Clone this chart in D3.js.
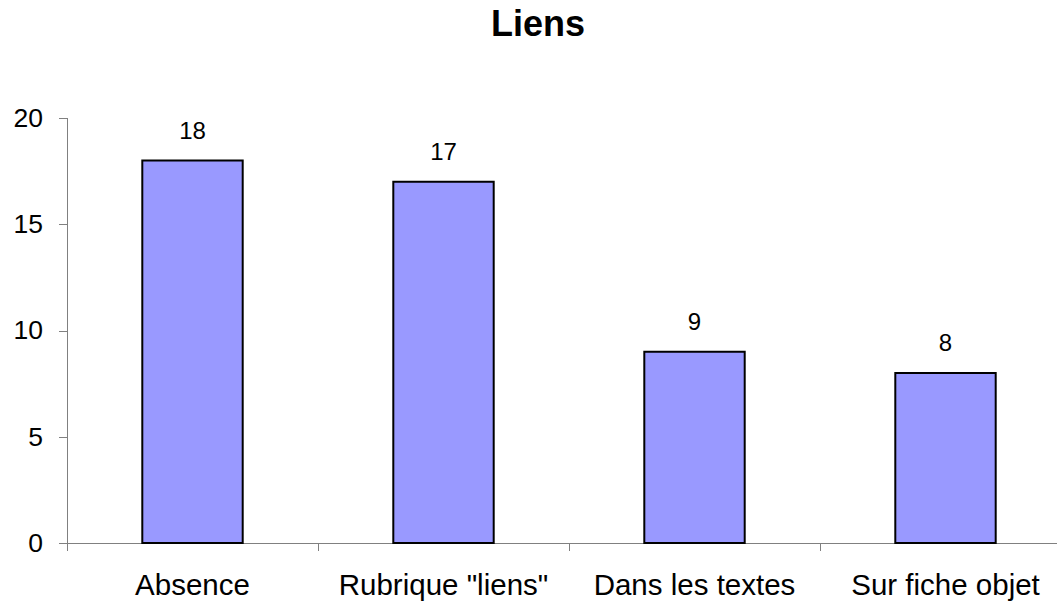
<!DOCTYPE html>
<meta charset='utf-8'>
<style>
body {
    margin: 0;
    background: #fff;
    font-family: 'Liberation Sans', Arial, sans-serif;
}
.axis path, .axis line {
    stroke: #808080;
    stroke-width: 1px;
    shape-rendering: crispEdges;
}
.axis text {
    font-family: 'Liberation Sans', Arial, sans-serif;
    fill: #000;
}
.bar {
    fill: #9999ff;
    stroke: #000;
    stroke-width: 2px;
}
</style>
<body>
<div class='chart'></div>
<script src='https://d3js.org/d3.v7.min.js'></script>
<script>
var categories = ['Absence', 'Rubrique "liens"', 'Dans les textes', 'Sur fiche objet'];
var values = [18, 17, 9, 8];
var yTicks = [0, 5, 10, 15, 20];

var width = 1057, height = 602;
var x0 = 67, x1 = 1071, yTop = 118, yBottom = 543;

var svg = d3.select('.chart').append('svg')
    .attr('width', width)
    .attr('height', height);

var x = d3.scaleBand()
    .domain(categories)
    .range([x0, x1])
    .paddingInner(0.6)
    .paddingOuter(0.3);

var xTicks = d3.scaleLinear()
    .domain([0, categories.length])
    .range([x0, x1]);

var y = d3.scaleLinear()
    .domain([0, 20])
    .range([yBottom, yTop]);

// title
svg.append('text')
    .attr('x', 538)
    .attr('y', 36)
    .attr('text-anchor', 'middle')
    .style('font-size', '36px')
    .style('font-weight', 'bold')
    .text('Liens');

// y axis
var yAxis = svg.append('g')
    .attr('class', 'axis')
    .attr('transform', 'translate(' + x0 + ',0)')
    .call(d3.axisLeft(y).tickValues(yTicks).tickSize(8).tickPadding(16));
yAxis.selectAll('text').attr('dy', '0.32em').style('font-size', '26.5px');
yAxis.select('.domain').remove();
yAxis.append('line')
    .attr('x1', 0.5).attr('x2', 0.5)
    .attr('y1', yTop).attr('y2', yBottom + 8);

// x axis line + ticks between categories
var xAxis = svg.append('g').attr('class', 'axis');
xAxis.append('line')
    .attr('x1', x0 - 8).attr('x2', x1)
    .attr('y1', yBottom).attr('y2', yBottom);
xAxis.selectAll('.tk')
    .data(d3.range(categories.length + 1))
    .enter().append('line')
    .attr('x1', function(d) { return Math.round(xTicks(d)) + 0.5; })
    .attr('x2', function(d) { return Math.round(xTicks(d)) + 0.5; })
    .attr('y1', yBottom)
    .attr('y2', yBottom + 8);
xAxis.selectAll('.lbl')
    .data(categories)
    .enter().append('text')
    .attr('x', function(d) { return x(d) + x.bandwidth() / 2; })
    .attr('y', 595)
    .attr('text-anchor', 'middle')
    .style('font-size', '29.5px')
    .text(function(d) { return d; });

// bars
svg.selectAll('.bar')
    .data(values)
    .enter().append('rect')
    .attr('class', 'bar')
    .attr('x', function(d, i) { return x(categories[i]); })
    .attr('y', function(d) { return y(d); })
    .attr('width', x.bandwidth())
    .attr('height', function(d) { return y(0) - y(d); });

// value labels
svg.selectAll('.val')
    .data(values)
    .enter().append('text')
    .attr('x', function(d, i) { return x(categories[i]) + x.bandwidth() / 2; })
    .attr('y', function(d) { return y(d) - 22; })
    .attr('text-anchor', 'middle')
    .style('font-size', '24px')
    .text(function(d) { return d; });
</script>
